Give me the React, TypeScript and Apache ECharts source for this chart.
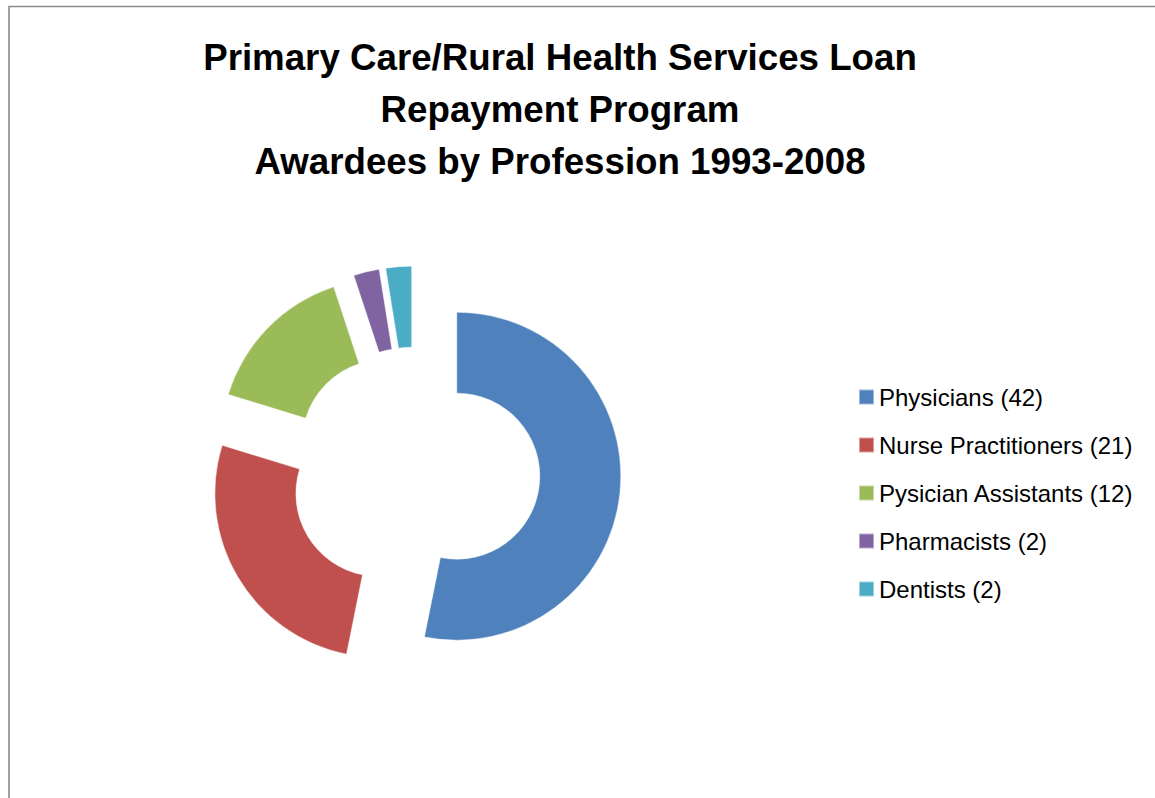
import React, { useEffect, useRef } from "react";
import * as echarts from "echarts";

const titleLines = [
  "Primary Care/Rural Health Services Loan",
  "Repayment Program",
  "Awardees by Profession 1993-2008",
];
const professions = [
  "Physicians",
  "Nurse Practitioners",
  "Pysician Assistants",
  "Pharmacists",
  "Dentists",
];
const awardees = [42, 21, 12, 2, 2];
const colors = ["#4F81BD", "#C0504D", "#9BBB59", "#8064A2", "#4BACC6"];

export default function App() {
  const ref = useRef<HTMLDivElement>(null);
  useEffect(() => {
    if (!ref.current) return;
    const chart = echarts.init(ref.current, undefined, { renderer: "svg" });
    const font = "'Liberation Sans', Arial, sans-serif";
    const sliceBorder = { borderColor: "rgba(255,255,255,0.45)", borderWidth: 1 };
    chart.setOption({
      animation: false,
      backgroundColor: "#ffffff",
      color: colors,
      graphic: [
        {
          type: "rect",
          shape: { x: 9, y: 6.5, width: 1300, height: 900 },
          style: { fill: "none", stroke: "#8a8a8a", lineWidth: 1.6 },
          silent: true,
        },
        ...titleLines.map((t, i) => ({
          type: "text",
          x: 560,
          y: 57 + i * 52,
          style: {
            text: t,
            fill: "#000000",
            font: `bold 36.7px ${font}`,
            textAlign: "center",
            textVerticalAlign: "middle",
          },
          silent: true,
        })),
      ],
      legend: {
        orient: "vertical",
        left: 853,
        top: 380,
        itemWidth: 15,
        itemHeight: 15,
        itemGap: 24,
        icon: "rect",
        textStyle: { fontFamily: font, fontSize: 24, lineHeight: 24, color: "#000000" },
        formatter: (name: string) => {
          const i = professions.indexOf(name);
          return `${name} (${awardees[i]})`;
        },
        selectedMode: false,
        data: professions,
      },
      series: [
        {
          type: "pie",
          center: [415, 472],
          radius: [83, 164],
          startAngle: 90,
          clockwise: true,
          selectedMode: "multiple",
          selectedOffset: 42,
          avoidLabelOverlap: false,
          label: { show: false },
          labelLine: { show: false },
          itemStyle: sliceBorder,
          select: { itemStyle: sliceBorder },
          emphasis: { disabled: true },
          data: professions.map((n, i) => ({
            name: n,
            value: awardees[i],
            selected: true,
          })),
        },
      ],
    });
    return () => chart.dispose();
  }, []);
  return (
    <div
      ref={ref}
      style={{ position: "absolute", left: 0, top: 0, width: 1155, height: 798 }}
    />
  );
}
